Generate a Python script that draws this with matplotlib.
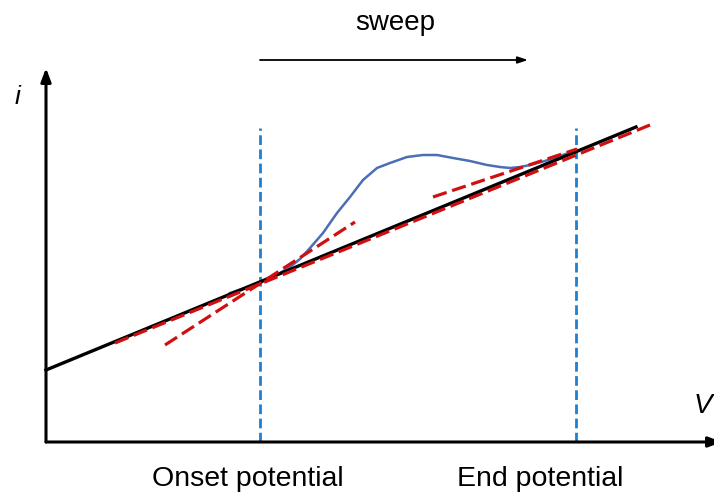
import numpy as np
import matplotlib.pyplot as plt

plt.rcParams["font.family"] = ["Liberation Sans", "DejaVu Sans"]

# baseline (straight black line), given as end points in V / i units
base_v = [0, 590]
base_i = [72, 315]

# measured curve with the oxidation wave
wave_v = [184, 199, 214, 229, 244, 254, 264, 277, 291, 304, 317, 331, 344, 361,
          377, 391, 407, 424, 441, 454, 464, 474, 484, 499, 514, 531]
wave_i = [149, 154, 159, 166, 175, 183, 194, 209, 229, 245, 262, 274, 279, 285,
          287, 287, 284, 281, 277, 275, 274, 275, 277, 281, 286, 292]

# tangent lines (red dashed)
tan_base_v = [69, 604]
tan_base_i = [99, 317]
tan_onset_v = [119, 309]
tan_onset_i = [97, 220]
tan_end_v = [387, 531]
tan_end_i = [245, 293]

# markers for onset / end potential
onset_v = 214
end_v = 530
marker_top = 314

fig = plt.figure(figsize=(7.14, 4.94), dpi=100)
ax = fig.add_axes([0, 0, 1, 1])
ax.set_xlim(-46, 668)
ax.set_ylim(-52, 442)
ax.axis("off")

# axes with arrow heads
ax.annotate("", xy=(0, 374), xytext=(0, 0), annotation_clip=False,
            arrowprops=dict(arrowstyle="-|>,head_length=0.8,head_width=0.3", color="black", lw=2.2, shrinkA=0, shrinkB=0))
ax.annotate("", xy=(676, 0), xytext=(0, 0), annotation_clip=False,
            arrowprops=dict(arrowstyle="-|>,head_length=0.8,head_width=0.3", color="black", lw=2.2, shrinkA=0, shrinkB=0))
ax.text(-28, 345, "i", fontsize=19, style="italic", ha="center", va="center")
ax.text(666, 36, "V", fontsize=20, style="italic", ha="right", va="center")

# dashed verticals
for v in [onset_v, end_v]:
    ax.plot([v, v], [0, marker_top], color="#1f7fd0", lw=2, ls=(0, (3.5, 1.6)))

ax.plot(base_v, base_i, color="black", lw=2.4, zorder=3)
for tv, ti in [(tan_base_v, tan_base_i), (tan_onset_v, tan_onset_i), (tan_end_v, tan_end_i)]:
    ax.plot(tv, ti, color="#d01010", lw=2.3, ls=(0, (4.5, 1.8)), zorder=4)
ax.plot(wave_v, wave_i, color="#4a6fb5", lw=1.8, zorder=2, solid_joinstyle="round")

# sweep arrow
ax.annotate("", xy=(482, 382), xytext=(214, 382),
            arrowprops=dict(arrowstyle="-|>,head_length=0.6,head_width=0.2", color="black", lw=1.3, shrinkA=0, shrinkB=0))
ax.text(349, 419, "sweep", fontsize=20, ha="center", va="center")

ax.text(202, -37, "Onset potential", fontsize=20.5, ha="center", va="center")
ax.text(494, -37, "End potential", fontsize=20.5, ha="center", va="center")

fig.savefig("out.png", dpi=100)
